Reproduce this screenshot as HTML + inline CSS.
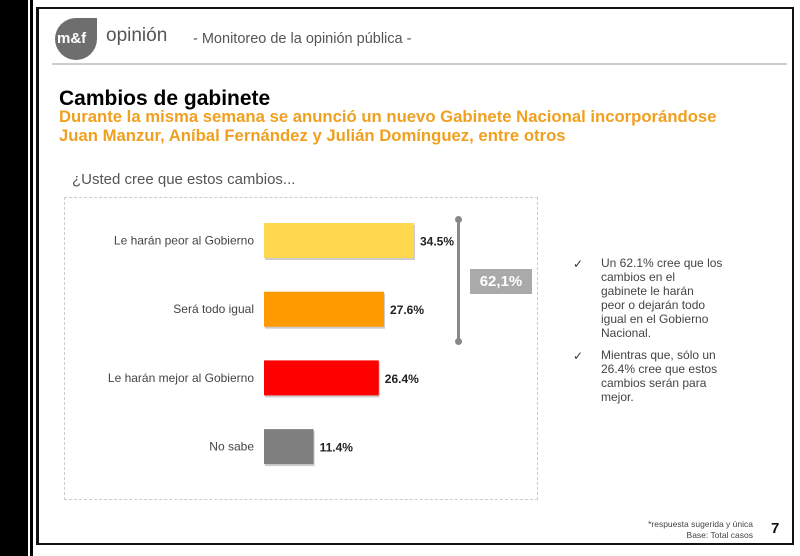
<!DOCTYPE html>
<html><head><meta charset="utf-8"><style>
body{margin:0;width:800px;height:556px;background:#fff;position:relative;overflow:hidden;font-family:"Century Gothic","Liberation Sans",sans-serif}
.a{position:absolute}
</style></head><body>
<div class="a" style="left:0;top:0;width:28px;height:556px;background:#000"></div>
<div class="a" style="left:30px;top:0;width:3px;height:556px;background:#000"></div>
<div class="a" style="left:36px;top:7px;width:753px;height:534px;border:2px solid #111;border-left-width:3px"></div>
<div class="a" style="left:55px;top:18px;width:42px;height:42px;background:#6e6e6e;border-radius:50% 0 50% 50%"></div>
<div class="a" style="left:57px;top:30px;color:#fff;font-size:15px;font-weight:bold">m&amp;f</div>
<div class="a" style="left:106px;top:25px;color:#555;font-size:19px">opinión</div>
<div class="a" style="left:193px;top:31px;color:#555;font-size:14.5px">- Monitoreo de la opinión pública -</div>
<div class="a" style="left:52px;top:63px;width:735px;height:2px;background:#ccc"></div>
<div class="a" style="left:59px;top:87px;color:#000;font-size:21px;font-weight:bold">Cambios de gabinete</div>
<div class="a" style="left:59px;top:107px;color:#f0a020;font-size:16.7px;font-weight:bold;line-height:19px;width:730px">Durante la misma semana se anunció un nuevo Gabinete Nacional incorporándose<br>Juan Manzur, Aníbal Fernández y Julián Domínguez, entre otros</div>
<div class="a" style="left:72px;top:171px;color:#555;font-size:15px">¿Usted cree que estos cambios...</div>
<div class="a" style="left:64px;top:197px;width:474px;height:303px;border:1px dashed #ccc;box-sizing:border-box"></div>
<svg class="a" style="left:0;top:0" width="800" height="556" id="chart"></svg>
<div class="a" style="left:457px;top:219px;width:3px;height:122px;background:#888"></div>
<div class="a" style="left:455px;top:216px;width:7px;height:7px;border-radius:50%;background:#888"></div>
<div class="a" style="left:455px;top:338px;width:7px;height:7px;border-radius:50%;background:#888"></div>
<div class="a" style="left:470px;top:269px;width:62px;height:25px;background:#aaa;color:#fff;font-size:15px;font-weight:bold;text-align:center;line-height:25px">62,1%</div>
<div class="a" style="left:573px;top:257px;font-size:12px;color:#333">✓</div>
<div class="a" style="left:601px;top:256px;white-space:nowrap;font-size:12px;line-height:14px;color:#444">Un 62.1% cree que los<br>cambios en el<br>gabinete le harán<br>peor o dejarán todo<br>igual en el Gobierno<br>Nacional.</div>
<div class="a" style="left:573px;top:349px;font-size:12px;color:#333">✓</div>
<div class="a" style="left:601px;top:348px;white-space:nowrap;font-size:12px;line-height:14px;color:#444">Mientras que, sólo un<br>26.4% cree que estos<br>cambios serán para<br>mejor.</div>
<div class="a" style="left:620px;top:519px;width:133px;text-align:right;font-size:8.5px;line-height:11px;color:#444">*respuesta sugerida y única<br>Base: Total casos</div>
<div class="a" style="left:771px;top:520px;font-size:15px;font-weight:bold;color:#111">7</div>
<script>
const categories=["Le harán peor al Gobierno","Será todo igual","Le harán mejor al Gobierno","No sabe"];
const values=[34.5,27.6,26.4,11.4];
const colors=["#ffd84f","#ff9a00","#ff0000","#7f7f7f"];
const svg=document.getElementById('chart');
const NS="http://www.w3.org/2000/svg";
const x0=264,pxPer=150/34.5,y0=223,step=68.7,bh=35;
function xs(v){return x0+v*pxPer;}
function ys(i){return y0+i*step;}
categories.forEach((c,i)=>{
  const y=ys(i);
  const sh=document.createElementNS(NS,'rect');
  sh.setAttribute('x',x0+1);sh.setAttribute('y',y+2);sh.setAttribute('width',xs(values[i])-x0);sh.setAttribute('height',bh);sh.setAttribute('fill','#ccc');
  
  
  svg.appendChild(sh);
  const r=document.createElementNS(NS,'rect');
  r.setAttribute('x',x0);r.setAttribute('y',y);r.setAttribute('width',xs(values[i])-x0);r.setAttribute('height',bh);r.setAttribute('fill',colors[i]);
  
  
  svg.appendChild(r);
  const l=document.createElementNS(NS,'text');
  l.setAttribute('x',254);l.setAttribute('y',y+bh/2+4);l.setAttribute('text-anchor','end');l.setAttribute('font-size','12');l.setAttribute('fill','#444');
  l.textContent=c;
  
  
  svg.appendChild(l);
  const v=document.createElementNS(NS,'text');
  v.setAttribute('x',xs(values[i])+6);v.setAttribute('y',y+bh/2+5);v.setAttribute('font-size','12');v.setAttribute('font-weight','bold');v.setAttribute('fill','#222');
  v.textContent=values[i].toFixed(1)+'%';
  
  
  svg.appendChild(v);
});
</script>
</body></html>
